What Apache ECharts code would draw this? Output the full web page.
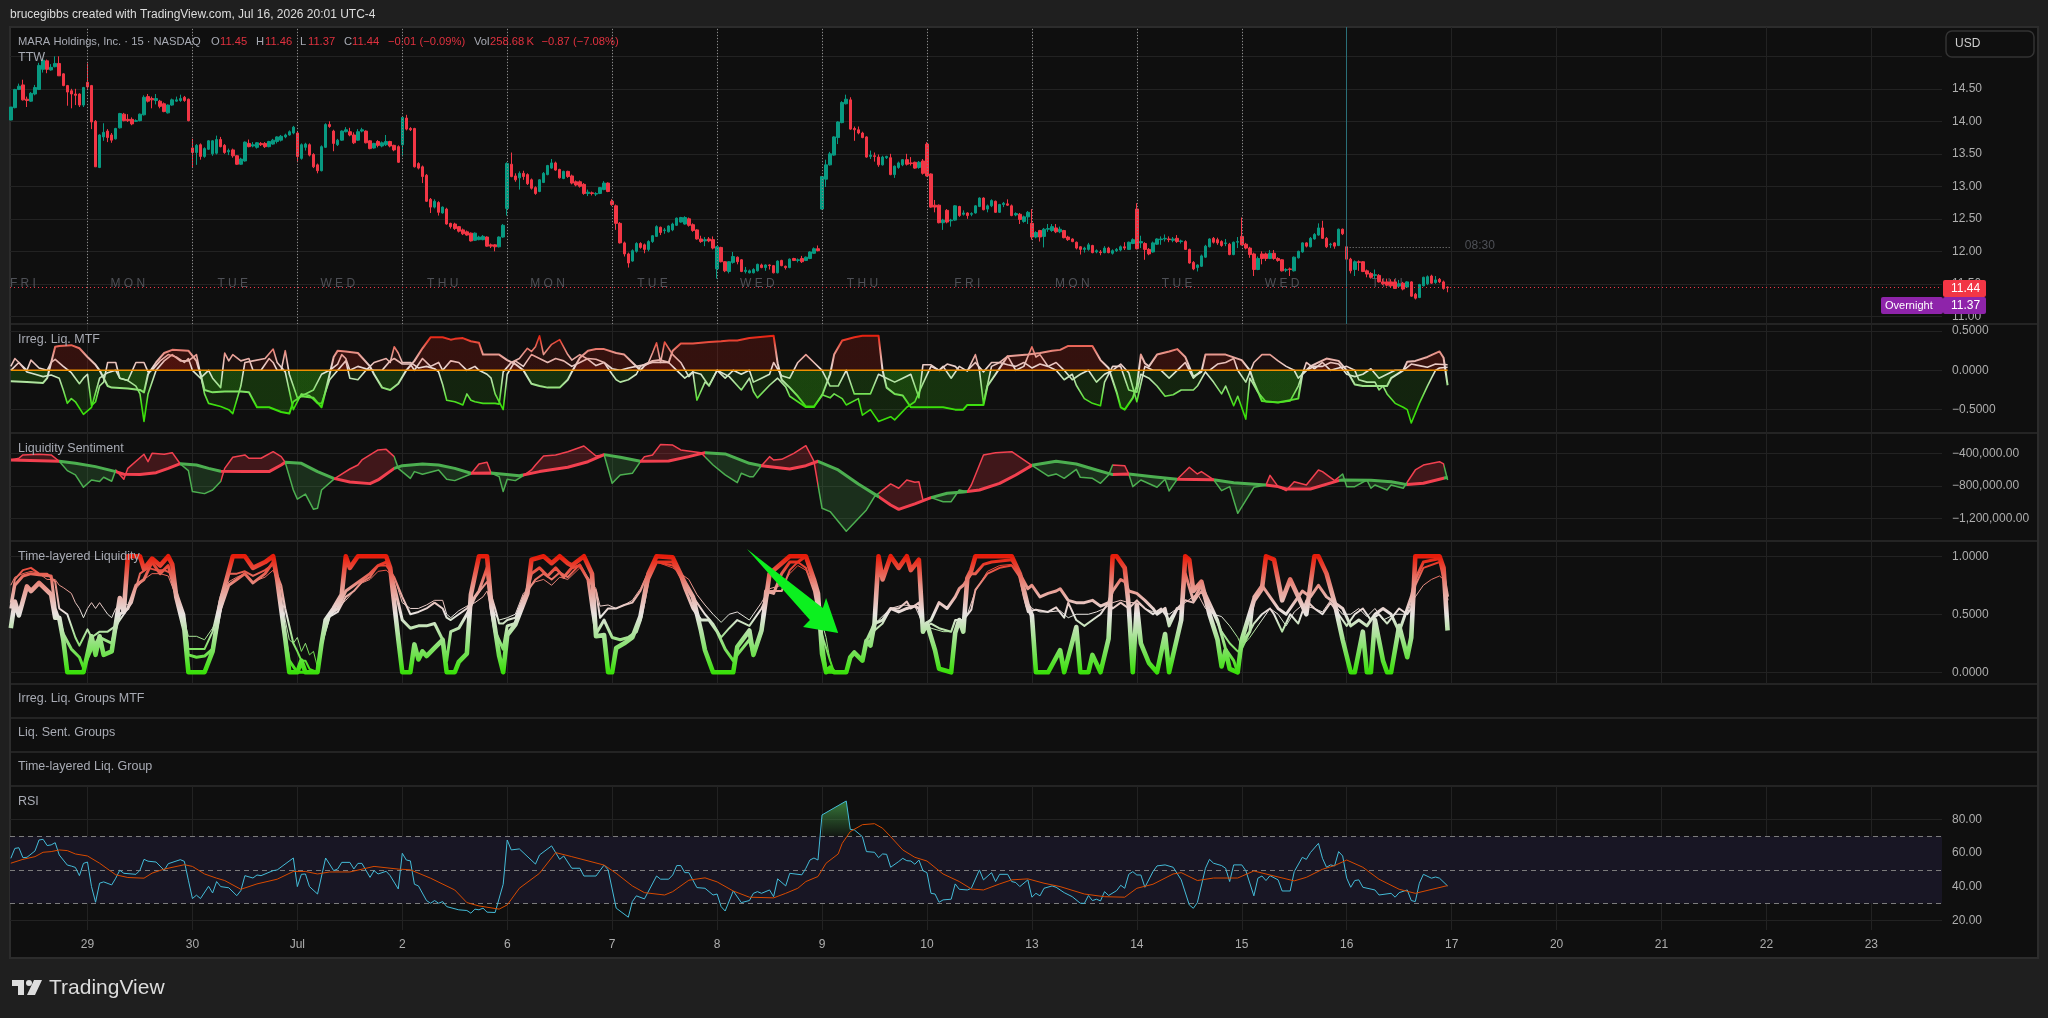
<!DOCTYPE html>
<html><head><meta charset="utf-8">
<style>html,body{margin:0;padding:0;background:#1f1f1f}#c{width:2048px;height:1018px}</style>
<script src="https://cdn.jsdelivr.net/npm/echarts@6/dist/echarts.min.js"></script>
</head><body><div id="c"></div>
<script>
// bar index 0 = first bar of Jun 29; 26 bars per session
const firstBar=-19;
const ohlc=[
[14.02,14.22,14.02,14.22],[14.21,14.49,14.2,14.5],[14.49,14.54,14.48,14.58],[14.56,14.33,14.32,14.64],[14.34,14.32,14.22,14.38],[14.31,14.43,14.3,14.45],[14.42,14.52,14.4,14.56],[14.49,14.86,14.48,14.9],[14.8,14.94,14.75,14.96],[14.93,14.8,14.74,14.95],[14.79,14.83,14.78,14.88],[14.84,14.89,14.83,15.0],[14.89,14.7,14.7,15.0],[14.73,14.55,14.54,14.74],[14.55,14.45,14.24,14.56],[14.47,14.42,14.2,14.5],[14.42,14.4,14.25,14.5],[14.42,14.25,14.22,14.43],[14.25,14.52,14.22,14.53],
[14.6,14.53,14.5,14.89],[14.55,13.99,13.88,14.56],[14.0,13.3,13.3,14.02],[13.29,13.79,13.28,13.8],[13.76,13.83,13.7,13.97],[13.85,13.75,13.68,13.88],[13.79,13.71,13.67,13.82],[13.73,13.89,13.72,13.9],[13.9,14.12,13.89,14.13],[14.11,14.01,14.0,14.13],[14.03,14.01,13.99,14.11],[14.03,13.96,13.94,14.06],[14.0,14.01,13.99,14.03],[14.01,14.11,14.0,14.12],[14.1,14.37,14.09,14.4],[14.38,14.31,14.29,14.42],[14.35,14.33,14.2,14.38],[14.32,14.35,14.26,14.42],[14.31,14.23,14.2,14.33],[14.27,14.15,14.14,14.29],[14.13,14.25,14.12,14.26],[14.25,14.33,14.24,14.35],[14.31,14.33,14.3,14.38],[14.32,14.35,14.3,14.41],[14.37,14.32,14.3,14.39],[14.34,14.01,14.0,14.35],
[13.59,13.52,13.29,13.73],[13.52,13.63,13.33,13.65],[13.64,13.46,13.41,13.66],[13.46,13.58,13.44,13.6],[13.57,13.7,13.56,13.71],[13.5,13.7,13.47,13.71],[13.51,13.72,13.49,13.78],[13.72,13.61,13.6,13.76],[13.63,13.52,13.5,13.65],[13.53,13.55,13.48,13.58],[13.56,13.47,13.44,13.58],[13.47,13.34,13.33,13.48],[13.34,13.42,13.33,13.44],[13.39,13.68,13.38,13.69],[13.66,13.61,13.6,13.72],[13.62,13.64,13.6,13.68],[13.6,13.67,13.58,13.68],[13.66,13.64,13.62,13.68],[13.66,13.61,13.59,13.68],[13.61,13.69,13.6,13.7],[13.65,13.71,13.64,13.73],[13.69,13.76,13.66,13.77],[13.71,13.77,13.69,13.79],[13.76,13.79,13.74,13.81],[13.79,13.84,13.78,13.86],[13.82,13.91,13.8,13.93],
[13.82,13.46,13.37,13.84],[13.43,13.64,13.41,13.66],[13.6,13.65,13.55,13.67],[13.64,13.48,13.46,13.66],[13.49,13.3,13.28,13.51],[13.33,13.24,13.2,13.35],[13.24,13.61,13.23,13.63],[13.6,13.95,13.59,13.97],[13.95,13.92,13.9,14.0],[13.85,13.66,13.54,13.87],[13.64,13.71,13.62,13.73],[13.71,13.85,13.7,13.86],[13.84,13.87,13.83,13.91],[13.84,13.79,13.77,13.9],[13.79,13.67,13.65,13.83],[13.71,13.84,13.7,13.88],[13.85,13.87,13.83,13.9],[13.85,13.67,13.66,13.86],[13.7,13.58,13.57,13.71],[13.59,13.66,13.58,13.67],[13.69,13.63,13.6,13.71],[13.62,13.67,13.6,13.69],[13.64,13.69,13.62,13.79],[13.69,13.62,13.6,13.7],[13.63,13.56,13.54,13.64],[13.61,13.37,13.36,13.63],
[13.64,14.06,13.46,14.08],[14.05,13.88,13.86,14.1],[13.89,13.87,13.85,13.91],[13.89,13.3,13.29,13.9],[13.35,13.28,13.26,13.37],[13.3,13.15,13.05,13.32],[13.17,12.77,12.76,13.19],[12.8,12.68,12.59,12.82],[12.68,12.77,12.66,12.8],[12.75,12.6,12.55,12.77],[12.59,12.68,12.58,12.69],[12.65,12.42,12.41,12.67],[12.43,12.38,12.35,12.44],[12.42,12.35,12.33,12.44],[12.38,12.31,12.29,12.39],[12.33,12.27,12.25,12.35],[12.3,12.25,12.24,12.32],[12.28,12.16,12.15,12.29],[12.17,12.28,12.16,12.29],[12.18,12.22,12.17,12.24],[12.18,12.23,12.17,12.25],[12.22,12.08,12.07,12.23],[12.1,12.08,12.05,12.12],[12.1,12.07,12.0,12.11],[12.07,12.22,12.06,12.23],[12.22,12.4,12.21,12.42],
[12.66,13.35,12.55,13.37],[13.34,13.15,13.14,13.52],[13.16,13.1,13.07,13.2],[13.13,13.2,12.95,13.23],[13.2,13.15,13.1,13.24],[13.18,13.04,13.02,13.2],[13.1,12.97,12.95,13.12],[12.98,12.89,12.87,13.0],[12.92,13.1,12.91,13.11],[13.06,13.2,13.05,13.22],[13.18,13.32,13.17,13.33],[13.28,13.36,13.27,13.42],[13.36,13.25,13.24,13.38],[13.26,13.13,13.12,13.27],[13.12,13.23,13.11,13.24],[13.23,13.15,13.13,13.24],[13.16,13.05,13.03,13.18],[13.07,13.02,13.0,13.09],[13.07,13.0,12.98,13.09],[13.03,12.89,12.87,13.05],[12.89,12.91,12.85,12.95],[12.9,12.89,12.86,12.92],[12.88,12.89,12.85,12.91],[12.89,12.98,12.88,12.99],[12.95,13.05,12.94,13.08],[13.05,12.92,12.91,13.06],
[12.77,12.72,12.7,12.8],[12.7,12.43,12.33,12.72],[12.43,12.13,12.12,12.45],[12.13,11.96,11.92,12.15],[11.96,11.82,11.75,11.98],[11.85,12.01,11.84,12.03],[12.0,12.12,11.98,12.14],[12.12,12.06,12.04,12.14],[12.1,12.03,11.97,12.12],[12.03,12.15,12.0,12.17],[12.15,12.24,12.13,12.25],[12.23,12.38,12.22,12.4],[12.37,12.29,12.25,12.38],[12.32,12.33,12.27,12.36],[12.3,12.39,12.29,12.4],[12.33,12.42,12.31,12.44],[12.4,12.51,12.39,12.52],[12.45,12.52,12.44,12.53],[12.42,12.52,12.41,12.54],[12.5,12.4,12.38,12.52],[12.41,12.32,12.3,12.43],[12.33,12.19,12.18,12.34],[12.19,12.15,12.13,12.24],[12.16,12.18,12.08,12.22],[12.19,12.16,12.14,12.22],[12.18,12.05,12.03,12.23],
[11.73,12.07,11.58,12.08],[12.06,11.84,11.83,12.07],[11.84,11.7,11.68,11.85],[11.69,11.84,11.66,11.85],[11.83,11.92,11.81,11.99],[11.91,11.84,11.8,11.92],[11.87,11.69,11.68,11.88],[11.69,11.71,11.66,11.76],[11.67,11.7,11.66,11.72],[11.67,11.72,11.66,11.74],[11.7,11.8,11.69,11.81],[11.79,11.75,11.74,11.81],[11.75,11.79,11.7,11.8],[11.79,11.78,11.72,11.8],[11.78,11.67,11.66,11.79],[11.67,11.85,11.66,11.86],[11.86,11.78,11.77,11.87],[11.77,11.75,11.72,11.78],[11.75,11.88,11.74,11.89],[11.89,11.86,11.85,11.9],[11.86,11.87,11.83,11.89],[11.89,11.84,11.82,11.93],[11.86,11.91,11.85,11.92],[11.89,11.99,11.88,12.0],[11.97,12.04,11.96,12.06],[12.04,12.01,12.0,12.09],
[12.65,13.15,12.64,13.16],[13.11,13.33,12.99,13.41],[13.33,13.5,13.32,13.53],[13.48,13.76,13.47,13.77],[13.75,13.99,13.65,14.0],[13.98,14.29,13.97,14.31],[14.27,14.34,14.26,14.41],[14.33,13.88,13.87,14.37],[13.89,13.87,13.7,13.92],[13.87,13.82,13.8,13.92],[13.82,13.75,13.74,13.84],[13.76,13.45,13.44,13.77],[13.46,13.48,13.42,13.55],[13.47,13.46,13.38,13.52],[13.45,13.33,13.3,13.49],[13.33,13.45,13.32,13.47],[13.44,13.46,13.42,13.47],[13.44,13.18,13.17,13.5],[13.18,13.31,13.13,13.32],[13.29,13.36,13.27,13.38],[13.33,13.41,13.31,13.42],[13.41,13.34,13.32,13.5],[13.36,13.35,13.32,13.45],[13.37,13.28,13.27,13.38],[13.29,13.37,13.27,13.39],[13.39,13.2,13.18,13.42],
[13.65,13.16,13.15,13.68],[13.19,12.68,12.67,13.2],[12.71,12.68,12.6,12.79],[12.71,12.44,12.43,12.72],[12.44,12.48,12.33,12.5],[12.63,12.45,12.43,12.65],[12.47,12.48,12.38,12.5],[12.48,12.7,12.47,12.71],[12.69,12.55,12.53,12.7],[12.57,12.59,12.55,12.63],[12.59,12.55,12.5,12.6],[12.57,12.58,12.54,12.6],[12.59,12.7,12.58,12.71],[12.69,12.82,12.68,12.83],[12.82,12.64,12.63,12.83],[12.65,12.7,12.6,12.72],[12.7,12.78,12.68,12.8],[12.77,12.6,12.59,12.78],[12.6,12.72,12.59,12.73],[12.72,12.74,12.68,12.76],[12.73,12.71,12.7,12.8],[12.7,12.55,12.54,12.72],[12.56,12.58,12.54,12.6],[12.57,12.49,12.42,12.59],[12.46,12.53,12.44,12.55],[12.53,12.6,12.42,12.62],
[12.43,12.22,12.18,12.65],[12.22,12.29,12.2,12.31],[12.32,12.22,12.15,12.33],[12.23,12.34,12.06,12.36],[12.34,12.35,12.3,12.42],[12.32,12.38,12.3,12.42],[12.36,12.3,12.28,12.42],[12.3,12.34,12.28,12.38],[12.32,12.21,12.2,12.33],[12.22,12.18,12.16,12.24],[12.19,12.15,12.14,12.2],[12.14,12.05,12.03,12.15],[12.07,12.03,11.95,12.08],[12.03,12.05,11.98,12.07],[12.03,12.1,12.01,12.13],[12.09,11.98,11.97,12.1],[11.99,12.01,11.97,12.03],[11.99,11.98,11.94,12.02],[11.98,12.05,11.97,12.08],[12.05,11.98,11.97,12.07],[11.97,12.01,11.95,12.03],[12.01,12.03,11.99,12.05],[12.02,12.07,12.0,12.09],[12.07,12.05,12.02,12.14],[12.03,12.14,12.02,12.15],[12.12,12.18,12.11,12.2],
[12.65,12.04,12.03,12.74],[12.13,12.15,12.05,12.24],[12.12,12.03,11.87,12.14],[12.03,11.96,11.94,12.05],[11.99,12.13,11.98,12.15],[12.11,12.19,12.1,12.2],[12.18,12.19,12.1,12.23],[12.19,12.2,12.15,12.26],[12.19,12.18,12.14,12.23],[12.17,12.19,12.14,12.22],[12.2,12.15,12.13,12.25],[12.15,12.16,12.12,12.18],[12.15,12.03,12.02,12.17],[12.03,11.82,11.81,12.04],[11.83,11.73,11.71,11.85],[11.75,11.79,11.69,11.8],[11.77,11.93,11.76,11.95],[11.91,12.08,11.9,12.1],[12.07,12.19,12.06,12.2],[12.2,12.14,12.12,12.22],[12.18,12.13,12.1,12.21],[12.15,12.09,12.07,12.17],[12.12,12.13,12.08,12.19],[12.11,11.95,11.94,12.13],[11.95,12.14,11.94,12.15],[12.14,12.15,12.05,12.22],
[12.23,12.1,12.09,12.52],[12.11,12.05,12.03,12.13],[12.05,11.95,11.9,12.07],[11.96,11.72,11.62,11.98],[11.72,11.89,11.71,11.92],[11.96,11.89,11.8,12.0],[11.96,11.89,11.85,11.98],[11.89,11.97,11.88,12.02],[11.97,11.89,11.87,12.02],[11.89,11.86,11.84,11.91],[11.87,11.7,11.69,11.88],[11.71,11.72,11.68,11.74],[11.73,11.72,11.62,11.75],[11.7,11.91,11.69,11.92],[11.9,12.0,11.89,12.01],[11.99,12.13,11.98,12.14],[12.13,12.08,12.06,12.14],[12.07,12.2,12.06,12.22],[12.19,12.26,12.18,12.28],[12.25,12.36,12.24,12.43],[12.36,12.2,12.19,12.47],[12.2,12.07,12.05,12.22],[12.1,12.11,12.05,12.13],[12.13,12.08,12.04,12.14],[12.09,12.34,12.08,12.35],[12.34,12.27,12.25,12.35],
[12.07,11.88,11.87,12.2],[11.88,11.7,11.66,11.9],[11.72,11.84,11.62,11.86],[11.84,11.83,11.7,11.86],[11.84,11.69,11.68,11.85],[11.7,11.65,11.6,11.72],[11.66,11.6,11.58,11.68],[11.63,11.64,11.58,11.72],[11.63,11.53,11.52,11.65],[11.53,11.5,11.48,11.58],[11.53,11.48,11.46,11.58],[11.53,11.47,11.45,11.57],[11.53,11.43,11.42,11.57],[11.47,11.5,11.44,11.56],[11.51,11.42,11.4,11.53],[11.45,11.53,11.44,11.54],[11.53,11.31,11.3,11.54],[11.34,11.28,11.26,11.36],[11.29,11.49,11.28,11.5],[11.47,11.6,11.46,11.61],[11.5,11.61,11.48,11.63],[11.62,11.51,11.5,11.64],[11.52,11.56,11.5,11.62],[11.57,11.53,11.51,11.59],[11.53,11.43,11.41,11.55],[11.45,11.44,11.37,11.46]
];
const priceTicks=[11,11.5,12,12.5,13,13.5,14,14.5,15];
const priceLabels=[11,11.5,12,12.5,13,13.5,14,14.5];
const irregTicks=[-0.5,0,0.5];
const sentTicks=[-1200000,-800000,-400000];
const timeTicks=[0,0.5,1];
const rsiTicks=[20,40,60,80];
const dayLabels=['29','30','Jul','2','6','7','8','9','10','13','14','15','16','17','20','21','22','23'];
const sessionBars=[0,26,52,78,104,130,156,182,208,234,260,286];
const weekdayNames=['F R I','M O N','T U E','W E D','T H U','M O N','T U E','W E D','T H U','F R I','M O N','T U E','W E D','T H U'];
const weekdayBars=[-16,10,36,62,88,114,140,166,192,218,244,270,296,322];
const lastClose=11.44, sessionHigh=12.06;

// flat lists: bar index, value, bar index, value ...
const irregA=[-19,-.14,-15,-.15,-11,-.16,-10,-.1,-8,.3,-7,.31,-4,.32,-2,.28,0,.17,2,.07,3,0,5,-.2,6,-.22,10,-.23,13,-.25,14,-.28,15,-.05,17,.1,19,.22,21,.26,25,.25,27,.12,28,-.05,29,-.25,31,-.28,34,-.27,38,-.27,40,-.28,42,-.47,45,-.47,48,-.53,50,-.55,51,-.4,53,-.33,56,-.35,58,-.47,60,-.05,61,.17,62,.25,64,.24,67,.22,70,.05,71,-.05,73,-.22,75,-.25,77,-.17,79,0,81,.12,83,.28,85,.42,88,.42,90,.39,91,.4,93,.41,95,.37,97,.35,98,.2,102,.2,104,.13,106,.08,108,0,110,-.17,112,-.2,114,-.22,117,-.22,119,-.12,120,-.02,122,.16,124,.25,126,.27,128,.27,131,.22,133,.2,135,.1,137,0,138,.06,140,.12,142,.13,144,.1,145,.25,147,.34,150,.34,154,.36,157,.37,159,.38,161,.38,164,.41,170,.44,171,.09,172,-.12,174,-.22,176,-.33,178,-.46,180,-.46,182,-.32,184,-.05,185,.2,187,.38,190,.42,192,.44,196,.44,197,0,198,-.22,200,-.3,202,-.32,204,-.47,207,-.47,212,-.47,215,-.5,217,-.5,218,-.44,222,-.44,223,-.2,225,-.05,228,.18,233,.2,236,.22,239,.25,241,.26,243,.31,249,.31,251,.13,253,.03,255,-.28,256,-.47,257,-.5,259,-.35,260,-.2,261,.2,262,.09,263,.05,265,.2,268,.24,270,.27,272,.17,274,-.08,276,-.02,277,.2,282,.2,286,.13,288,0,289,-.15,291,-.39,295,-.41,300,-.36,301,-.05,303,.05,305,.1,307,.15,310,.12,312,0,314,-.18,316,-.2,320,-.2,322,-.2,323,-.1,326,0,327,.11,329,.12,332,.17,335,.24,336,.16,337,-.19];
const irregB=[-19,0,-17,.1,-15,-.02,-13,-.05,-11,-.08,-9,-.06,-7,-.1,-6,-.25,-5,-.42,-4,-.36,-3,-.4,-1,-.56,1,-.47,3,-.1,5,-.03,7,0,8,-.1,10,-.13,12,-.2,13,-.3,14,-.65,15,-.3,17,0,19,.12,21,.2,23,.12,25,.12,27,.2,28,-.05,29,-.3,30,-.42,33,-.46,35,-.5,36,-.55,38,-.2,39,.1,41,.12,44,.15,46,.27,47,.1,49,-.02,51,-.5,53,-.3,55,-.32,57,-.42,58,-.42,60,-.12,62,0,64,.12,65,-.1,67,-.12,69,0,71,.1,74,.15,75,.1,76,.3,77,.22,78,.1,80,.1,82,.03,84,.05,86,.02,87,-.02,88,-.18,89,-.38,91,-.4,92,-.42,93,-.44,94,-.3,95,-.38,96,-.4,98,-.42,101,-.42,102,-.43,103,-.02,105,.1,107,.15,109,.28,110,.24,111,.3,112,.44,113,.2,115,.33,117,.39,119,.2,120,.13,122,.2,124,.14,126,.06,128,.1,130,-.05,131,-.12,132,-.15,134,-.12,136,-.05,137,.05,139,.1,140,.22,141,.35,142,.1,143,.36,145,.2,147,.1,149,-.08,150,-.02,151,-.38,153,-.15,154,-.19,156,0,159,-.08,162,-.25,164,-.1,165,-.27,166,-.35,169,-.19,171,-.1,173,-.21,174,-.33,178,-.47,180,-.47,182,-.31,184,-.35,185,-.3,187,-.36,188,-.44,191,-.36,192,-.57,194,-.5,196,-.65,199,-.59,200,-.63,203,-.47,205,-.4,207,-.17,209,.05,211,0,212,.05,214,-.1,216,.05,218,-.01,220,.2,221,0,222,-.42,224,.05,226,.1,228,.18,230,0,232,.05,234,.3,235,.17,236,.2,238,.05,240,0,242,-.12,244,-.05,245,-.19,247,-.36,249,-.42,251,-.45,252,-.15,254,.05,256,.05,257,-.1,258,-.25,260,-.28,261,-.05,263,-.1,265,-.2,267,-.33,269,-.31,271,-.25,274,-.25,275,-.2,277,-.02,279,-.15,281,-.3,282,-.2,284,-.45,285,-.33,287,-.62,288,-.1,290,-.28,292,-.4,295,-.41,298,-.39,300,-.2,302,.1,304,.02,306,.1,308,0,310,.03,312,.05,314,0,315,-.12,317,-.15,319,-.15,320,-.25,321,-.2,322,-.3,324,-.42,326,-.47,327,-.5,328,-.67,330,-.42,332,-.2,333,-.1,334,0,335,.03,337,.04];
const irregC=[-19,.05,-18,.15,-17,.1,-15,0,-14,.13,-12,.03,-10,0,-9,.1,-8,.14,-6,.05,-4,-.03,-2,-.17,-1,-.1,0,-.05,1,-.45,2,-.4,3,-.2,4,-.15,5,.1,7,.1,8,-.1,10,-.13,12,.1,14,.1,15,-.02,16,0,18,.12,20,.2,22,.17,24,.1,25,.15,26,0,28,-.1,30,0,31,-.1,33,-.22,34,.22,35,.12,36,.2,38,.12,40,.15,41,0,43,0,45,.15,46,.1,47,0,48,0,49,.25,50,-.05,52,-.35,54,-.3,56,-.25,58,-.05,60,0,62,.08,63,.2,64,.15,65,0,67,.05,69,.02,71,0,73,0,75,.12,76,.15,78,.08,80,.08,81,0,83,.15,85,.05,87,.1,88,0,90,.12,92,.1,94,0,96,.05,97,0,99,-.05,100,-.1,101,-.3,103,-.5,104,-.05,106,.12,108,.05,110,.2,112,.15,114,.1,116,.15,118,.12,120,.05,122,.1,124,.15,126,.14,128,.1,130,.02,132,0,134,.03,136,.05,138,.07,140,.1,142,.1,144,.1,146,0,148,-.1,150,-.02,152,-.05,154,-.2,156,0,158,-.1,160,0,162,-.05,164,0,165,-.15,167,-.1,169,-.05,170,.1,172,-.07,174,-.1,176,.1,178,.2,180,.1,182,0,184,-.2,186,-.2,188,0,190,-.3,192,-.3,194,-.3,196,-.05,198,-.1,200,-.15,202,-.1,204,-.05,206,-.35,207,.07,209,.07,211,0,213,.08,215,.05,216,0,218,0,220,.1,222,-.02,224,.1,226,.1,228,.07,230,.05,232,.1,234,.03,236,.08,238,.05,240,.1,242,0,244,-.12,246,-.05,248,0,250,-.15,252,-.05,254,0,256,.08,258,-.03,260,-.4,262,.05,264,0,266,0,268,-.1,270,0,272,.1,274,-.1,276,0,278,0,280,.08,282,.1,284,.15,285,0,287,-.15,289,.1,291,.2,293,.2,295,.12,297,.05,299,0,300,-.1,302,0,304,.05,306,.05,308,.1,310,.08,312,-.05,314,-.08,316,-.05,318,.02,320,-.1,322,-.05,324,0,326,0,328,.08,330,.06,332,.04,334,.08,337,.07];
const irregZero=[-19,0,337,0];

// thousands
const sentSlow=[-19,-482,-7,-498,-3,-523,2,-564,7,-625,9,-658,13,-662,17,-638,20,-585,23,-527,27,-544,30,-585,33,-621,39,-625,45,-625,48,-544,49,-511,53,-523,57,-625,61,-708,65,-753,70,-773,72,-728,76,-585,78,-552,83,-531,87,-544,91,-585,95,-646,100,-642,107,-675,112,-625,119,-572,124,-503,128,-416,132,-449,137,-498,144,-494,149,-441,153,-392,158,-408,164,-523,167,-552,174,-593,178,-552,181,-498,186,-605,191,-777,196,-933,199,-1036,201,-1089,205,-1023,209,-945,213,-892,217,-876,221,-851,226,-769,230,-667,234,-548,240,-498,245,-531,250,-605,254,-662,258,-654,264,-687,270,-720,279,-724,284,-761,292,-790,295,-810,297,-839,303,-839,310,-736,311,-728,318,-732,323,-749,327,-785,331,-769,337,-695];
const sentFast=[-19,-482,-17,-461,-16,-420,-12,-412,-9,-420,-7,-498,-5,-613,-3,-666,-1,-818,1,-728,3,-748,4,-695,6,-744,7,-605,9,-720,10,-585,14,-412,15,-502,16,-400,19,-412,21,-392,23,-531,25,-613,26,-871,29,-896,31,-851,33,-748,34,-585,36,-449,39,-420,40,-461,43,-461,46,-380,48,-441,49,-511,51,-851,52,-964,54,-902,56,-1089,57,-1076,58,-851,61,-720,62,-687,65,-593,67,-544,68,-482,72,-359,74,-351,76,-441,77,-585,80,-708,81,-625,83,-658,87,-605,89,-720,91,-736,95,-654,97,-531,99,-511,100,-642,102,-687,103,-871,104,-720,106,-736,108,-675,110,-605,111,-544,113,-433,116,-420,119,-380,123,-310,126,-433,128,-416,130,-769,132,-666,135,-646,137,-503,138,-441,140,-420,142,-290,145,-298,147,-359,152,-392,155,-544,158,-666,161,-761,162,-646,164,-687,165,-687,167,-552,169,-441,170,-482,172,-474,175,-400,178,-306,180,-498,182,-1076,184,-1117,188,-1360,193,-1097,195,-933,199,-777,201,-830,203,-728,205,-757,206,-749,207,-974,209,-945,212,-995,214,-995,216,-851,218,-872,219,-790,222,-421,225,-392,229,-380,234,-548,238,-679,240,-654,242,-708,245,-597,246,-695,249,-708,251,-769,253,-666,254,-544,257,-552,258,-654,259,-810,261,-728,265,-818,267,-720,268,-863,270,-720,273,-572,275,-654,276,-625,279,-724,281,-859,283,-810,285,-1138,289,-818,292,-790,293,-671,295,-810,297,-859,299,-749,302,-790,305,-605,306,-625,309,-736,311,-654,312,-810,314,-810,317,-728,318,-830,319,-790,322,-851,323,-790,326,-830,329,-605,331,-544,335,-503,336,-531,337,-728];
// bar index where the slow line changes colour; runs alternate red, green, red ...
const sentBreaksFixed=[-19,-7,7,23,33,49,61,76,95,100,108,128,137,153,167,181,196,209,218,234,254,258,270,279,292,310,327,336,338];

const timeW1=[-19,.75,-18,.82,-16,.85,-14,.87,-12,.85,-10,.8,-8,.8,-7,.75,-6,.73,-4,.68,-3,.6,-2,.55,-1,.47,0,.55,1,.6,2,.55,3,.6,4,.55,5,.5,6,.47,7,.55,9,.6,10,.58,12,.72,14,.8,16,.85,18,.85,20,.83,22,.65,24,.45,25,.31,27,.31,29,.28,31,.38,33,.52,35,.78,37,.82,39,.85,41,.78,44,.82,46,.88,48,.72,49,.45,50,.28,51,.25,52,.3,53,.18,54,.25,55,.15,56,.18,57,.04,58,.25,60,.48,62,.55,64,.62,66,.7,68,.77,70,.8,72,.87,74,.88,76,.82,78,.6,80,.55,82,.55,84,.58,86,.62,88,.62,89,.5,90,.47,92,.53,94,.57,96,.6,98,.65,99,.7,100,.55,102,.45,104,.47,106,.5,108,.68,111,.78,113,.8,115,.75,117,.82,119,.8,122,.9,124,.82,126,.72,127,.57,129,.58,131,.55,133,.58,135,.62,137,.72,139,.87,141,.95,145,.9,147,.85,149,.8,151,.67,153,.58,155,.5,157,.43,159,.5,161,.52,164,.45,165,.5,167,.6,169,.72,172,.75,174,.85,176,.92,178,.88,180,.75,181,.55,183,.3,184,.1,185,0,188,0,189,.13,190,.17,192,.1,193,.27,194,.23,195,.42,196,.45,199,.55,202,.58,205,.57,207,.42,209,.38,212,.35,214,.35,215,.45,217,.45,218,.5,220,.7,223,.87,226,.92,229,.93,231,.83,233,.6,234,.55,236,.52,238,.52,241,.53,243,.47,245,.5,248,.5,250,.52,252,.55,254,.6,256,.62,258,.6,260,.6,262,.55,264,.52,266,.53,268,.5,270,.55,272,.6,275,.68,277,.55,279,.5,281,.48,283,.4,285,.3,286,.22,288,.3,291,.45,293,.55,295,.5,297,.4,299,.52,301,.58,304,.55,306,.52,308,.62,311,.5,313,.5,315,.55,317,.48,319,.55,321,.45,324,.5,327,.5,328,.6,329,.65,331,.75,333,.8,335,.83,336,.8,337,.65];
const timeW2=[-19,.6,-18,.8,-16,.88,-14,.9,-12,.85,-10,.85,-8,.78,-7,.55,-5,.5,-3,.3,-2,.23,-1,.3,0,.37,1,.3,3,.35,5,.35,7,.4,9,.5,11,.6,13,.85,15,.9,17,.88,19,.88,21,.85,22,.7,24,.5,25,.2,27,.2,29,.2,31,.35,33,.65,35,.85,37,.85,39,.87,41,.83,44,.88,46,.93,48,.75,49,.55,51,.25,52,.18,53,.1,54,.1,55,.03,57,0,58,.25,60,.48,62,.52,64,.65,66,.7,68,.78,70,.82,72,.92,74,.92,76,.82,78,.65,80,.5,82,.52,84,.55,86,.6,88,.55,89,.47,90,.45,92,.5,94,.55,96,.65,99,.78,101,.55,102,.42,103,.42,104,.45,106,.47,108,.65,111,.8,113,.85,115,.8,117,.86,119,.82,122,.93,124,.8,126,.7,127,.47,129,.55,131,.55,133,.58,135,.6,137,.7,139,.87,141,.95,145,.92,147,.85,149,.72,151,.6,153,.5,155,.42,157,.3,159,.38,161,.45,164,.4,165,.45,167,.55,169,.7,172,.7,174,.88,176,.95,178,.9,180,.7,182,.32,184,.1,185,0,188,0,189,.13,190,.17,192,.1,193,.28,195,.36,197,.42,199,.55,201,.55,203,.61,204,.55,206,.6,207,.37,209,.42,211,.38,214,.35,215,.45,217,.45,219,.54,220,.71,223,.85,226,.9,229,.92,231,.82,232,.65,233,.52,235,.54,238,.52,240,.56,242,.47,243,.6,245,.45,247,.4,249,.45,251,.5,253,.6,254,.55,256,.6,258,.55,260,.62,262,.55,264,.5,266,.55,268,.45,270,.55,272,.62,274,.6,276,.7,278,.55,279,.5,281,.35,283,.25,285,.18,286,.2,288,.35,289,.42,291,.5,293,.55,294,.5,296,.35,298,.5,300,.42,302,.62,304,.55,306,.5,308,.6,310,.5,312,.4,314,.5,316,.55,318,.45,320,.5,322,.42,325,.55,327,.5,328,.55,329,.75,331,.9,335,.95,336,.8,337,.62];
const timeW3=[-19,.55,-18,.75,-16,.83,-14,.85,-12,.84,-9,.83,-8,.55,-7,.45,-6,.33,-4,.2,-2,.13,-1,.04,1,.2,3,.3,6,.25,8,.5,10,.55,12,.75,14,.8,16,.95,18,.85,20,.92,22,.65,24,.45,25,.15,27,.13,29,.14,31,.2,33,.55,35,.75,37,.8,39,.85,41,.77,44,.85,46,.95,47,.8,49,.29,50,.1,52,0,57,0,58,.25,60,.5,62,.55,64,.7,66,.75,68,.8,70,.85,72,.92,74,.95,75,.9,77,.6,78,.45,80,.38,82,.4,84,.4,86,.42,88,.28,89,.1,90,.35,92,.38,94,.5,96,.65,97,.7,99,.9,100,.55,101,.35,103,.2,104,.4,106,.42,108,.6,110,.85,112,.9,114,.83,116,.9,118,.82,120,.9,122,.92,124,.8,125,.55,126,.33,128,.45,130,.3,132,.28,134,.3,136,.35,137,.45,139,.8,141,.95,145,.95,147,.82,148,.72,150,.55,152,.45,154,.45,156,.35,158,.2,160,.1,161,.15,164,.28,165,.15,167,.35,168,.7,170,.68,172,.85,174,.95,176,.95,178,1,180,.75,181,.6,182,.3,183,0,185,0,188,0,189,.13,190,.17,192,.1,193,.27,195,.42,197,.45,199,.55,201,.52,203,.55,205,.57,206,.55,207,.4,209,.45,211,.6,213,.55,215,.65,216,.72,217,.75,219,.85,220,.85,222,.93,224,.95,229,.97,231,.85,233,.72,234,.75,236,.65,238,.68,240,.7,241,.72,243,.62,245,.6,247,.6,249,.62,251,.57,253,.6,254,.7,256,.8,257,.78,258,.7,260,.68,262,.62,264,.55,265,.5,267,.55,268,.4,270,.55,271,.55,272,.85,274,.62,276,.75,278,.6,280,.45,282,.2,284,.1,285,0,286,.25,288,.35,289,.65,291,.75,293,.65,295,.55,297,.5,299,.6,301,.7,303,.65,305,.75,307,.65,309,.6,311,.55,313,.4,315,.45,317,.4,319,.5,321,.55,323,.5,325,.35,327,.55,328,.65,329,.8,331,.95,335,.98,336,.85,337,.65];
const timeW4=[-19,.38,-18,.61,-17,.49,-15,.74,-14,.7,-12,.77,-9,.67,-8,.47,-7,.47,-6,.28,-5,0,-1,0,1,.31,2,.15,3,.31,4,.15,6,.18,8,.64,9,.52,10,1,13,1,14,.89,16,.98,18,.92,20,1,21,.93,22,.65,24,.37,25,0,29,0,31,.18,33,.61,36,1,39,1,41,.9,44,.95,46,1,47,.8,49,.29,50,0,52,0,53,.1,54,0,57,0,58,.25,59,.45,61,.55,63,.67,64,1,65,.9,67,1,74,1,75,.9,77,.29,78,0,80,0,81,.24,82,.11,83,.18,84,.14,86,.21,88,.28,89,0,91,0,92,.09,94,.16,95,.67,97,1,99,1,100,.6,101,.37,102,.14,103,0,104,.32,106,.41,109,.68,110,.97,113,1,115,.94,117,1,119,.94,120,.92,123,1,125,.85,126,.31,128,.32,129,0,130,0,131,.21,133,.25,135,.3,137,.48,139,.85,141,1,145,.99,148,.77,150,.65,152,.36,153,.19,155,0,160,0,161,.22,164,.36,165,.15,167,.36,169,.85,170,.88,174,1,178,1,180,.8,181,.68,182,.16,183,0,184,.04,185,0,188,0,189,.13,190,.17,192,.1,193,.27,194,.23,195,.42,196,1,197,.8,199,1,201,.9,203,1,204,.88,206,.97,207,.35,208,.42,210,.19,211,.03,214,0,215,.34,216,.45,217,.35,218,.81,219,.88,220,1,229,1,231,.85,233,.57,234,.49,235,0,238,0,241,.19,242,0,245,.39,246,0,248,0,249,.15,251,0,253,.29,254,1,255,1,257,.9,258,.57,259,0,260,.58,261,.25,263,.08,265,0,267,.33,268,0,271,.45,272,1,273,.97,274,.7,276,.78,278,.5,280,.28,281,.05,282,.19,283,.03,285,0,286,.28,289,.62,291,.72,292,1,294,.97,296,.62,298,.8,300,.65,302,.5,304,1,305,1,307,.85,309,.6,311,.28,313,0,314,0,316,.35,317,0,318,0,319,.45,321,.1,322,0,323,0,325,.4,327,.13,328,.3,329,1,335,1,336,.9,337,.36];
const arrowShape=[163.4,1.063,182.2,.554,183,.64,186,.339,177.3,.39,179,.451];

const rsiLine=[-19,56.8,-18,62.7,-17,63.1,-16,57.2,-15,57.4,-13,61.2,-12,67.7,-11,68.1,-10,64.4,-9,64.8,-8,66.1,-7,58.8,-5,52.8,-4,52.2,-3,51.4,-2,46.5,-1,53.8,0,54.6,1,40,2,30.7,3,42,4,42.8,6,41,7,45,8,49.7,9,47.9,12,47.3,13,49.7,14,56.2,15,55.1,17,54.6,19,49.7,20,53.6,23,56,24,55,25,43.8,26,32.9,27,34.9,28,32.9,30,40.2,31,36.2,32,43,33,40,35,39.3,37,34.6,38,37.6,39,46.5,41,45.1,42,46.9,43,46.5,46,49.5,47,49.9,51,57,52,40,53,47.3,54,47.5,55,40,57,35.6,59,57,61,49.5,62,50.5,63,54.4,65,54.4,66,50.5,67,53.8,68,53.8,70,45.5,71,49.5,72,47.5,74,49.1,75,46.5,77,38.6,78,59.8,79,55.8,80,55.3,81,41.4,82,40.4,84,31.7,85,30.1,86,31.7,87,30.1,88,31.1,89,28.1,92,26.2,94,25.8,95,24.2,96,26.6,97,26.2,98,27.2,99,24.8,101,24.6,103,41.4,104,67.7,105,61.8,107,62.4,111,53.4,112,58.8,115,64.2,117,56.2,118,58.2,120,50.9,122,50.9,123,46.3,126,46.3,128,52.8,129,49.9,131,27.2,134,21.8,135,31.1,136,34.5,138,32.7,141,46.3,142,44.4,144,44.4,145,46.9,146,52.5,147,52.5,148,48.3,149,48.3,151,39.4,153,39,155,35,156,35.6,157,28.1,158,25.5,160,37.4,162,30.5,164,31.7,165,36,166,37,167,36,169,38,170,34,171,44.6,173,40.4,174,47.9,177,47,178,50.9,179,55.8,180,57,181,55.8,182,82.6,188,90.9,189,74,190,73.7,192,69.7,193,60.8,195,60.4,196,57.2,197,59.4,198,59.2,199,51.5,201,54.9,202,56.8,203,55.4,204,55.2,205,53.3,206,55.8,207,49.5,208,48.3,209,36,210,35.6,211,30.7,212,32.1,214,32.5,215,41.6,216,38.4,218,38,219,39,221,49.9,222,44,224,48.3,225,43,226,47.3,228,47.3,229,43,230,42.4,231,40,233,44,234,33.7,235,36,236,34.5,237,39,239,40.4,240,39.6,242,36.4,244,34,246,30.1,247,30,248,34.7,249,31.7,250,32.5,251,31.5,252,37,253,34.7,255,37.6,256,40.8,257,39,258,47.3,259,48.9,260,46.9,261,46.9,262,39.6,264,48.9,265,52.3,267,52.9,269,51.5,271,44,273,29.1,274,27.1,275,30.5,277,50.9,278,56.2,279,53.9,281,52.5,282,50.9,283,43,284,52.9,286,52.9,287,49.5,289,34.5,290,45,291,46.3,292,43.6,293,46.5,295,44,296,37.4,298,37.4,299,48.9,301,57.4,302,56.2,303,60.2,305,65.7,306,56.8,307,51.5,308,52.9,309,52.3,310,60.8,311,58.2,312,45,313,39.6,314,43.6,315,44,316,39.6,319,38,320,35,323,36,324,33.7,325,36.4,327,38,328,31.7,329,31.1,330,42,331,47.3,333,45,334,45.7,335,45,337,40.4];
const rsiAvg=[-19,53.9,-16,56.2,-13,57.8,-11,60.4,-9,60.8,-7,61.8,-5,61.4,-3,59.4,0,58.2,3,53.9,7,47,10,45.4,14,45,16,48,19,50.4,24,53,26,52,29,47.5,32,45,34,43.6,38,38.4,42,41.6,47,44.4,51,49,54,49,57,47.5,60,48.7,65,48.7,71,52,77,50.4,80,50,85,45,91,38,94,30.5,97,28.5,102,26.6,104,29.1,107,39,112,47.9,116,60.2,120,57.8,128,52.8,131,47.9,135,40.4,138,36.4,143,35,145,37,149,43.8,153,45.2,156,42.8,160,37.4,164,33.7,170,33.3,173,36,176,39,178,43,181,46,183,53.9,186,59.4,187,65.7,189,72.7,192,76.8,195,77.4,197,74.7,199,69.7,202,61.8,205,57.4,208,55.2,212,47.5,216,43,219,38.6,222,38,226,41.6,229,44,233,44.6,237,42,241,40,247,35.6,252,34,257,33.7,260,39,264,41.4,269,47.5,271,48.3,275,43.6,279,45.1,285,45.1,289,49.3,293,46.9,299,43.4,302,45.5,306,50.3,309,52.5,312,55.8,316,51.5,320,44.4,325,38.4,329,36,337,40.6];
const rsiOverbought=[182,82.6,188,90.9,189,74,189.6,70,182,70];

const pairs=a=>{const o=[];for(let i=0;i<a.length;i+=2)o.push([a[i],a[i+1]]);return o};
const at=(p,x)=>{for(let i=1;i<p.length;i++){if(x<=p[i][0]){const t=(x-p[i-1][0])/(p[i][0]-p[i-1][0]);return [x,p[i-1][1]+t*(p[i][1]-p[i-1][1])]}}return p[p.length-1]};

const FONT='"Liberation Sans",Arial,sans-serif';
const X0=-19.2,X1=459.5;
const dayTicks=dayLabels.map((_,i)=>i*26);
const gridCol='#222222', RED='#f23645', GREEN='#089981';
const panes=[{top:27,h:297},{top:324,h:109},{top:433,h:108},{top:541.5,h:142.5},{top:786,h:144}];
const grid=panes.map(p=>({left:10,width:1932,top:p.top,height:p.h,containLabel:false}));
const xAxis=panes.map((p,i)=>({type:'value',gridIndex:i,min:X0,max:X1,axisLine:{show:false},
  axisTick:{show:false,customValues:dayTicks},
  splitLine:{show:true,lineStyle:{color:gridCol,width:1}},
  axisLabel:i==4?{show:true,customValues:dayTicks,color:'#aeaeae',fontSize:12,fontFamily:FONT,margin:9,formatter:v=>dayLabels[Math.round(v/26)]}:{show:false}}));
const yA=(i,min,max,ticks,labels,fmt)=>({type:'value',gridIndex:i,position:'right',min,max,scale:true,
  axisLine:{show:false},axisTick:{show:false,customValues:ticks},splitLine:{show:true,lineStyle:{color:gridCol,width:1}},
  axisLabel:{customValues:labels,color:'#aeaeae',fontSize:12,fontFamily:FONT,margin:10,formatter:fmt}});
const minus=s=>s.replace('-','\u2212');
const yAxis=[
 yA(0,10.882,15.451,priceTicks,priceLabels,v=>v.toFixed(2)),
 yA(1,-0.797,0.589,irregTicks,irregTicks,v=>minus(v.toFixed(4))),
 yA(2,-1479000,-150000,sentTicks,sentTicks,v=>'\u2212'+Math.abs(v).toLocaleString('en-US')+'.00'),
 yA(3,-0.101,1.127,timeTicks,timeTicks,v=>v.toFixed(4)),
 yA(4,14.2,99.8,rsiTicks,rsiTicks,v=>v.toFixed(2))
];

const line=(g,name,flat,color,width,extra)=>{
  const ls={width,join:'round'}; if(color) ls.color=color;
  return Object.assign({type:'line',name,xAxisIndex:g,yAxisIndex:g,data:pairs(flat),showSymbol:false,symbol:'none',smooth:false,animation:false,silent:true,lineStyle:ls,z:5},extra||{});
};
const polygon=(g,name,flat,fill,z)=>({type:'custom',name,xAxisIndex:g,yAxisIndex:g,animation:false,silent:true,z:z||3,data:[[flat[0],flat[1]]],encode:{x:0,y:1},
  renderItem:(p,api)=>({type:'polygon',shape:{points:pairs(flat).map(q=>api.coord(q))},style:{fill}})});

const series=[];
const dotted=(c)=>({color:c,type:[1,2],width:1});
series.push({type:'candlestick',name:'MARA',xAxisIndex:0,yAxisIndex:0,animation:false,silent:true,barWidth:3,z:4,
  data:ohlc.map((r,i)=>[firstBar+i,r[0],r[1],r[2],r[3]]),
  itemStyle:{color:GREEN,color0:RED,borderColor:GREEN,borderColor0:RED,borderWidth:1},
  markLine:{silent:true,symbol:'none',animation:false,label:{show:false},precision:4,lineStyle:dotted('#8a8a8a'),
    data:[...sessionBars.map(v=>({xAxis:v,lineStyle:dotted('#8a8a8a')})),
      {xAxis:312,lineStyle:{color:'#2a6f78',type:'solid',width:1}},
      {yAxis:lastClose,lineStyle:{color:RED,type:[1,3],width:1}},
      [{coord:[312,sessionHigh],lineStyle:dotted('#8a8a8a')},{coord:[338,sessionHigh]}]]}});
series.push({type:'scatter',name:'TTW',xAxisIndex:0,yAxisIndex:0,animation:false,silent:true,symbolSize:0,z:3,
  data:weekdayBars.map(v=>[v,11.5]),
  label:{show:true,position:'inside',formatter:p=>weekdayNames[p.dataIndex],color:'#5e6068',fontSize:12,fontFamily:FONT}});
series.push({type:'scatter',name:'time',xAxisIndex:0,yAxisIndex:0,animation:false,silent:true,symbolSize:0,z:3,
  data:[[345,12.08]],label:{show:true,position:'inside',formatter:'08:30',color:'#5e6068',fontSize:12,fontFamily:FONT}});

// Irreg fills then lines
const fillIdx=[];
[[irregA,.17],[irregB,.1],[irregC,.05]].forEach(([d,o],i)=>{fillIdx.push(series.length);
  series.push(line(1,'fill'+i,d,null,0,{z:2,areaStyle:{opacity:o,origin:0},lineStyle:{width:0}}))});
const irregIdx=[];
[[irregB,1.6],[irregC,1.6],[irregA,2]].forEach(([d,w],i)=>{irregIdx.push(series.length);series.push(line(1,'irreg'+i,d,null,w))});
series.push(line(1,'zero',irregZero,'#f09000',1.6,{z:7}));

// Sentiment
const fast=pairs(sentFast).map(p=>[p[0],p[1]*1000]), slow=pairs(sentSlow).map(p=>[p[0],p[1]*1000]);
const flatK=a=>a.flat();
const isRedRun=i=>i%2==0;
sentBreaksFixed.slice(0,-1).forEach((a,i)=>{
  const b=sentBreaksFixed[i+1];const e=Math.min(b,337);
  const top=[at(fast,Math.max(a,-19))].concat(fast.filter(p=>p[0]>a&&p[0]<e),[at(fast,e)]);
  const bot=[at(slow,Math.max(a,-19))].concat(slow.filter(p=>p[0]>a&&p[0]<e),[at(slow,e)]);
  series.push(polygon(2,'sentFill'+i,flatK(top.concat(bot.reverse())),isRedRun(i)?'rgba(242,54,69,0.22)':'rgba(76,175,80,0.2)'));
});
const sentLineIdx=[series.length,series.length+1];
series.push({...line(2,'fast',[],null,1.5),data:fast});
series.push({...line(2,'slow',[],null,3),data:slow});

// Time layered
const timeIdx=[];
[[timeW1,1],[timeW2,2],[timeW3,3],[timeW4,4.6]].forEach(([d,w],i)=>{timeIdx.push(series.length);series.push(line(3,'w'+i,d,null,w,{z:5+i}))});
series.push(polygon(3,'arrow',arrowShape,'#0cf01f',20));

// RSI
series.push(polygon(4,'ob',rsiOverbought,new echarts.graphic.LinearGradient(0,0,0,1,[{offset:0,color:'rgba(76,175,80,0.65)'},{offset:1,color:'rgba(76,175,80,0.05)'}]),3));
series.push(line(4,'RSI',rsiLine,'#44bcd8',1,{z:6,
  markArea:{silent:true,animation:false,itemStyle:{color:'#181624'},data:[[{yAxis:30},{yAxis:70}]]},
  markLine:{silent:true,symbol:'none',animation:false,label:{show:false},lineStyle:{color:'#7c7c7c',type:[5,4],width:1},data:[{yAxis:70},{yAxis:50},{yAxis:30}]}}));
series.push(line(4,'MA',rsiAvg,'#d84a00',1,{z:7}));

const redStops=['#3ae00a','#92e27c','#e8e4e2','#e89085','#e81c0a'];
const pieces=[];
sentBreaksFixed.slice(0,-1).forEach((a,i)=>pieces.push({gte:a,lt:sentBreaksFixed[i+1],color:isRedRun(i)?'#f2404f':'#4caf50'}));
const visualMap=[
 {type:'continuous',show:false,seriesIndex:irregIdx,dimension:1,min:-0.45,max:0.45,inRange:{color:redStops},outOfRange:{color:'#3ae00a'}},
 {type:'piecewise',show:false,seriesIndex:fillIdx,dimension:1,pieces:[{gte:-2,lt:0,color:'#3ae00a'},{gte:0,lte:2,color:'#e81c0a'}]},
 {type:'piecewise',show:false,seriesIndex:sentLineIdx,dimension:0,pieces},
 {type:'continuous',show:false,seriesIndex:timeIdx,dimension:1,min:0,max:1,inRange:{color:redStops}}
];

const T=(x,y,text,fill,fs,extra)=>Object.assign({type:'text',x,y,z:100,silent:true,style:Object.assign({text,fill,fontSize:fs||12,fontFamily:FONT,textVerticalAlign:'middle'},extra||{})});
const L=(y)=>({type:'line',z:-5,silent:true,shape:{x1:10,y1:y,x2:2038,y2:y},style:{stroke:'#2c2c2c',lineWidth:1.5}});
const R=(x,y,w,h,fill,r)=>({type:'rect',z:90,silent:true,shape:{x,y,width:w,height:h,r:r||0},style:{fill}});
const GREY='#a8abb4',PR='#e0313f';
const LG=11.2, TT=12.5;
const graphic=[
 {type:'rect',z:-10,silent:true,shape:{x:10,y:27,width:2028,height:931},style:{fill:'#0f0f0f',stroke:'#2c2c2c',lineWidth:2}},
 L(324),L(433),L(541),L(684),L(718),L(752),L(786),
 T(10,15,'brucegibbs created with TradingView.com, Jul 16, 2026 20:01 UTC-4','#dddddd',12),
 T(18,42,'MARA Holdings, Inc. \u00b7 15 \u00b7 NASDAQ',GREY,LG),
 T(211,42,'O',GREY,LG),T(220,42,'11.45',PR,LG),T(256,42,'H',GREY,LG),T(265,42,'11.46',PR,LG),T(300,42,'L',GREY,LG),T(308,42,'11.37',PR,LG),T(344,42,'C',GREY,LG),T(352,42,'11.44',PR,LG),
 T(388,42,'\u22120.01 (\u22120.09%)',PR,LG),T(474,42,'Vol',GREY,LG),T(490,42,'258.68\u2009K',PR,LG),T(541.5,42,'\u22120.87 (\u22127.08%)',PR,LG),
 T(18,58,'TTW',GREY,TT),
 T(18,340,'Irreg. Liq. MTF',GREY,TT),T(18,449,'Liquidity Sentiment',GREY,TT),T(18,557,'Time-layered Liquidity',GREY,TT),
 T(18,699,'Irreg. Liq. Groups MTF',GREY,TT),T(18,733,'Liq. Sent. Groups',GREY,TT),T(18,767,'Time-layered Liq. Group',GREY,TT),T(18,802,'RSI',GREY,TT),
 {type:'rect',z:95,silent:true,shape:{x:1946,y:31,width:88,height:26,r:6},style:{fill:'#0f0f0f',stroke:'#333333',lineWidth:1.5}},
 T(1955,44,'USD','#cfcfcf'),
 R(1943,280,43,17,'#f23645',2),T(1951,288.5,'11.44','#ffffff'),
 R(1881,297,62,17,'#8e24aa',2),T(1885,305.5,'Overnight','#ffffff',11),
 R(1943,297,43,17,'#8e24aa',2),T(1951,305.5,'11.37','#ffffff'),
 R(12,980,12,6,'#dddddd'),R(18,986,6,9,'#dddddd'),
 {type:'circle',z:90,silent:true,shape:{cx:29,cy:983,r:3},style:{fill:'#dddddd'}},
 {type:'polygon',z:90,silent:true,shape:{points:[[34,980],[42,980],[35,995],[27,995]]},style:{fill:'#dddddd'}},
 T(49,988,'TradingView','#dddddd',21,{fontWeight:500})
];

const chart=echarts.init(document.getElementById('c'),null,{width:2048,height:1018});
chart.setOption({backgroundColor:'#1f1f1f',animation:false,grid,xAxis,yAxis,series,visualMap,graphic,tooltip:{show:false}});
</script></body></html>
